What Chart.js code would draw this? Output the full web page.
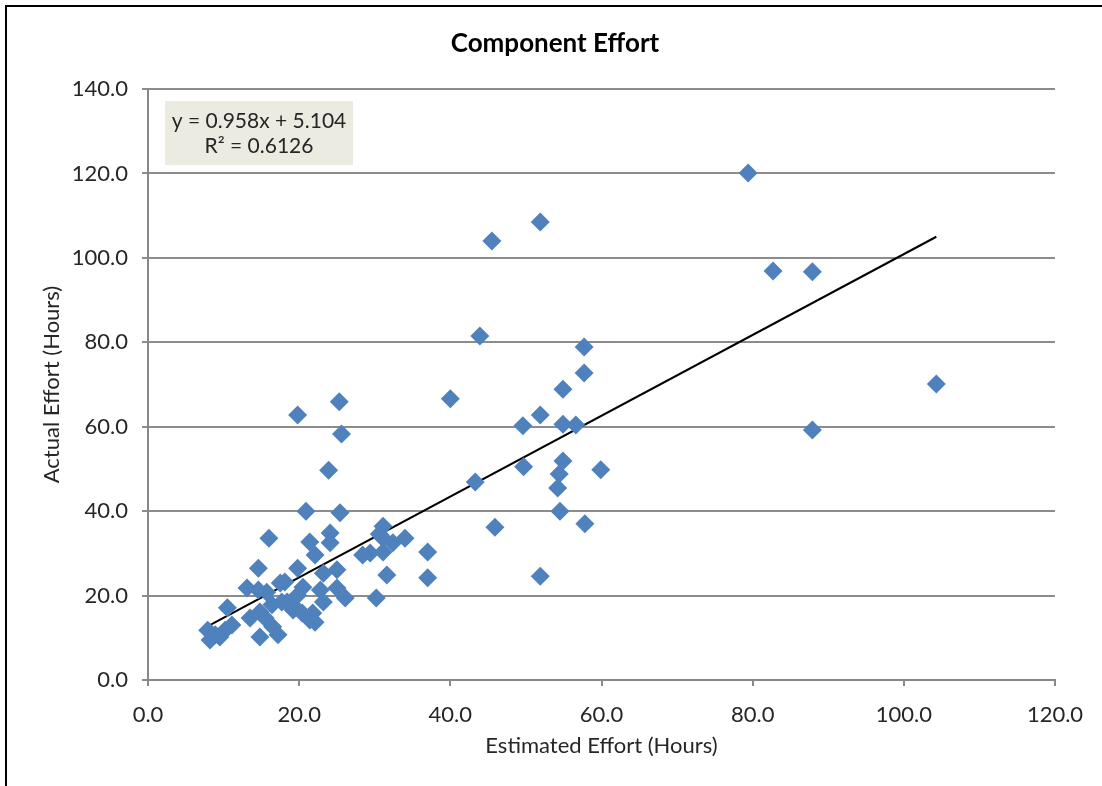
<!DOCTYPE html>
<html>
<head>
<meta charset="utf-8">
<title>Component Effort</title>
<script src="https://cdn.jsdelivr.net/npm/chart.js@4.4.1/dist/chart.umd.min.js"></script>
<style>
  html, body { margin: 0; padding: 0; background: #fff; }
  #wrap { position: relative; width: 1102px; height: 786px; }
  #frame { position: absolute; left: 5px; top: 5px; right: -5px; bottom: -5px; border-left: 2px solid #000; border-top: 2px solid #000; pointer-events: none; }
  canvas { position: absolute; left: 0; top: 0; }
</style>
</head>
<body>
<div id="wrap">
  <canvas id="chart" width="1102" height="786"></canvas>
  <div id="frame"></div>
</div>
<script>
// Estimated vs actual effort per component (hours)
const estimatedHours = [
  79.4, 51.9, 45.5, 82.7, 87.9, 43.9, 57.7, 57.7, 54.9, 40.0,
  25.3, 19.8, 51.9, 104.3, 87.9, 25.6, 49.6, 54.9, 56.6, 23.9,
  49.7, 54.9, 54.4, 54.2, 59.9, 43.3, 54.5, 57.8, 45.9, 51.9,
  20.9, 25.4, 16.0, 34.0, 31.1, 30.6, 37.0, 37.0, 30.2, 31.6,
  31.1, 31.1, 32.4, 29.4, 24.1, 24.1, 21.4, 22.1, 28.4, 19.8,
  25.0, 23.2, 18.1, 20.5, 22.8, 25.0, 26.1, 23.2, 18.4, 19.2,
  21.4, 21.8, 14.6, 13.1, 14.6, 15.7, 17.5, 10.5, 7.9, 8.9,
  8.2, 10.2, 11.1, 13.5, 14.8, 15.5, 16.5, 17.2, 14.8, 17.7,
  19.1, 19.8, 16.4, 20.4, 22.1, 9.5
];
const actualHours = [
  120.1, 108.5, 104.0, 96.9, 96.7, 81.5, 78.9, 72.7, 68.9, 66.6,
  65.9, 62.8, 62.8, 70.1, 59.2, 58.3, 60.2, 60.6, 60.4, 49.7,
  50.5, 51.9, 48.8, 45.5, 49.8, 46.9, 40.0, 37.0, 36.2, 24.6,
  40.0, 39.6, 33.6, 33.6, 36.4, 34.6, 30.3, 24.2, 19.4, 24.9,
  33.6, 30.3, 32.5, 30.1, 34.8, 32.5, 32.7, 29.6, 29.6, 26.5,
  26.1, 25.3, 23.2, 22.0, 21.3, 21.8, 19.4, 18.5, 18.5, 16.6,
  14.2, 15.9, 26.5, 21.8, 21.3, 20.8, 23.0, 17.1, 11.8, 10.7,
  9.5, 11.8, 13.0, 14.7, 16.1, 14.7, 12.6, 10.7, 10.2, 18.5,
  17.8, 20.1, 17.8, 15.9, 13.7, 10.2
];
// Linear trendline end points as drawn
const trendX = [8.0, 104.3];
const trendY = [12.8, 105.0];
const trendLabel = ['y = 0.958x + 5.104', 'R\u00b2 = 0.6126'];
const chartTitle = 'Component Effort';

const FONT = 'Lato, "Open Sans", sans-serif';

const scatterPoints = estimatedHours.map((x, i) => ({ x: x, y: actualHours[i] }));
const trendPoints = trendX.map((x, i) => ({ x: x, y: trendY[i] }));

// Title centred on the whole picture, equation box in the plot corner
const overlays = {
  id: 'overlays',
  afterDraw(chart) {
    const { ctx, chartArea } = chart;
    ctx.save();
    ctx.fillStyle = '#000';
    ctx.font = 'bold 26px ' + FONT;
    ctx.textAlign = 'center';
    ctx.textBaseline = 'middle';
    ctx.fillText(chartTitle, 555, 44);

    const left = chartArea.left + 17;
    const top = chartArea.top + 12;
    const w = 188, h = 64;
    ctx.fillStyle = '#ecebe1';
    ctx.fillRect(left, top, w, h);
    ctx.fillStyle = '#262626';
    ctx.font = '21px ' + FONT;
    ctx.fillText(trendLabel[0], left + w / 2, top + 20);
    ctx.fillText(trendLabel[1], left + w / 2, top + 45);
    ctx.restore();
  }
};

new Chart(document.getElementById('chart'), {
  type: 'scatter',
  data: {
    datasets: [
      {
        label: 'Components',
        data: scatterPoints,
        pointStyle: 'rectRot',
        pointRadius: 9.5,
        pointHoverRadius: 9.5,
        backgroundColor: '#4f81bd',
        borderColor: '#4f81bd',
        borderWidth: 0
      },
      {
        label: 'Linear trend',
        type: 'line',
        data: trendPoints,
        borderColor: '#000',
        borderWidth: 2,
        pointRadius: 0,
        fill: false
      }
    ]
  },
  options: {
    responsive: false,
    animation: false,
    layout: { padding: { left: 0, right: 47, top: 89, bottom: 0 } },
    plugins: {
      legend: { display: false },
      tooltip: { enabled: false },
      title: { display: false }
    },
    scales: {
      x: {
        type: 'linear',
        min: 0,
        max: 120,
        afterFit(scale) { scale.height = 106; },
        border: { display: true, color: '#888', width: 2 },
        grid: { drawOnChartArea: false, drawTicks: true, tickLength: 6, color: '#888', lineWidth: 2 },
        ticks: {
          stepSize: 20,
          padding: 16,
          color: '#262626',
          font: { family: FONT, size: 22 },
          callback: (v) => Number(v).toFixed(1)
        },
        title: {
          display: true,
          text: 'Estimated Effort (Hours)',
          color: '#262626',
          font: { family: FONT, size: 22, lineHeight: 1.2 },
          padding: { top: 0, bottom: 27 }
        }
      },
      y: {
        type: 'linear',
        min: 0,
        max: 140,
        afterFit(scale) { scale.width = 148; },
        border: { display: true, color: '#888', width: 2 },
        grid: { drawTicks: true, tickLength: 6, color: '#8c8c8c', lineWidth: 2 },
        ticks: {
          stepSize: 20,
          padding: 14,
          color: '#262626',
          font: { family: FONT, size: 22 },
          callback: (v) => Number(v).toFixed(1)
        },
        title: {
          display: true,
          text: 'Actual Effort (Hours)',
          color: '#262626',
          font: { family: FONT, size: 22, lineHeight: 1.2 },
          padding: { top: 39, bottom: 0 }
        }
      }
    }
  },
  plugins: [overlays]
});
</script>
</body>
</html>
